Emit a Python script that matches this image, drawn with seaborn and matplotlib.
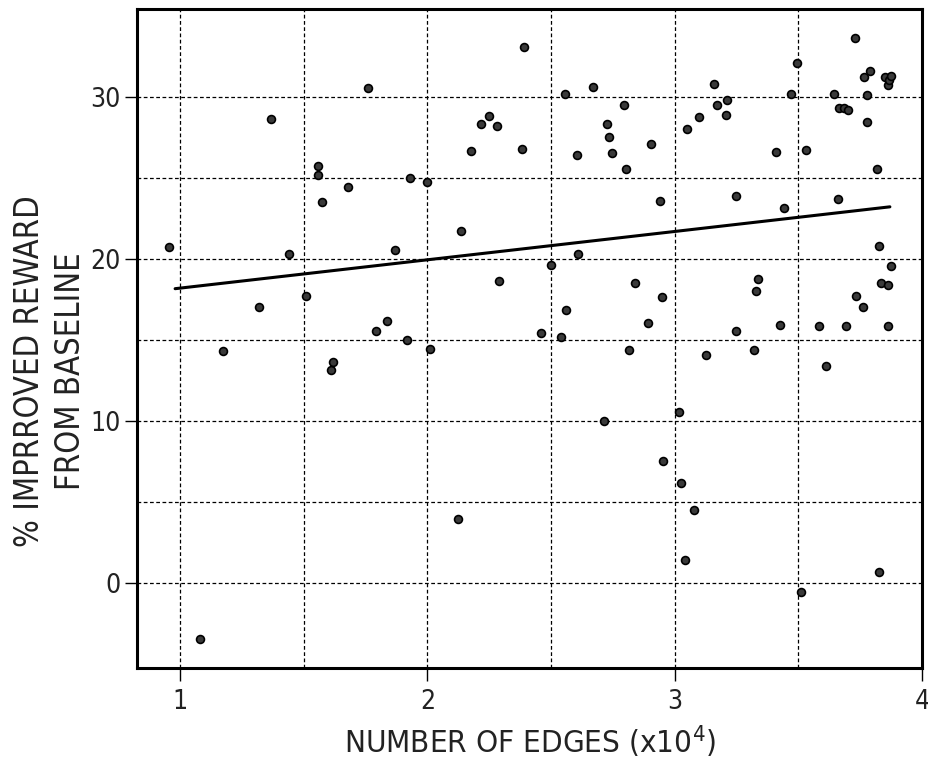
import matplotlib
matplotlib.use("Agg")
import matplotlib.pyplot as plt
from matplotlib.ticker import FixedLocator
import seaborn as sns
import pandas as pd

# Number of edges (x10^4)
edges = [0.957, 1.081, 1.174, 1.318, 1.368, 1.440, 1.508, 1.559, 1.559, 1.572,
         1.610, 1.618, 1.680, 1.758, 1.794, 1.837, 1.868, 1.917, 1.930, 2.000,
         2.011, 2.124, 2.135, 2.175, 2.217, 2.248, 2.280, 2.288, 2.381, 2.391,
         2.461, 2.500, 2.540, 2.555, 2.560, 2.606, 2.610, 2.668, 2.716, 2.725,
         2.734, 2.747, 2.795, 2.805, 2.815, 2.838, 2.894, 2.905, 2.939, 2.948,
         2.952, 3.019, 3.025, 3.040, 3.049, 3.080, 3.100, 3.128, 3.158, 3.169,
         3.209, 3.211, 3.248, 3.248, 3.320, 3.328, 3.338, 3.411, 3.424, 3.441,
         3.472, 3.496, 3.512, 3.531, 3.585, 3.611, 3.645, 3.659, 3.666, 3.686,
         3.699, 3.693, 3.729, 3.734, 3.761, 3.767, 3.776, 3.777, 3.789, 3.816,
         3.826, 3.827, 3.836, 3.852, 3.863, 3.862, 3.863, 3.868, 3.874, 3.876]
# % improved reward from baseline
reward = [20.70, -3.48, 14.28, 17.02, 28.64, 20.31, 17.70, 25.70, 25.14, 23.48,
          13.11, 13.60, 24.40, 30.51, 15.57, 16.15, 20.56, 14.98, 24.98, 24.73,
          14.42, 3.93, 21.73, 26.67, 28.31, 28.81, 28.17, 18.60, 26.79, 33.09,
          15.41, 19.63, 15.17, 30.16, 16.85, 26.42, 20.29, 30.62, 9.96, 28.31,
          27.49, 26.50, 29.49, 25.56, 14.36, 18.48, 16.05, 27.10, 23.58, 17.61,
          7.53, 10.56, 6.19, 1.42, 28.02, 4.51, 28.72, 14.03, 30.78, 29.51,
          28.87, 29.80, 23.85, 15.57, 14.34, 18.02, 18.77, 26.56, 15.90, 23.13,
          30.16, 32.10, -0.58, 26.71, 15.82, 13.35, 30.19, 23.68, 29.28, 29.28,
          29.20, 15.82, 33.60, 17.72, 16.99, 31.19, 28.46, 30.08, 31.60, 25.56,
          20.80, 0.70, 18.50, 31.23, 18.35, 15.82, 30.70, 31.00, 19.53, 31.27]

# Trend line endpoints
trend_x = [0.98, 3.87]
trend_y = [18.15, 23.20]

x_ticks = [1, 2, 3, 4]
y_ticks = [0, 10, 20, 30]
x_minor = [1.5, 2.5, 3.5]
y_minor = [5, 15, 25]

df = pd.DataFrame({"edges": edges, "reward": reward})
trend = pd.DataFrame({"x": trend_x, "y": trend_y})

sns.set_theme(style="white")
plt.rcParams["font.family"] = ["DejaVu Sans"]
plt.rcParams["font.stretch"] = "condensed"
plt.rcParams["mathtext.fontset"] = "custom"
plt.rcParams["mathtext.rm"] = "DejaVu Sans:stretch=condensed"

fig = plt.figure(figsize=(9.29, 7.68), dpi=100)
ax = fig.add_axes([0.1475, 0.1302, 0.845, 0.858])

sns.scatterplot(data=df, x="edges", y="reward", ax=ax, s=32, color="#3a3a3a",
                edgecolor="black", linewidth=1.2, zorder=3)
sns.lineplot(data=trend, x="x", y="y", ax=ax, color="black", linewidth=2.2, zorder=2)

ax.set_xlim(0.826, 4.0)
ax.set_ylim(-5.25, 35.4)
ax.set_xticks(x_ticks)
ax.set_yticks(y_ticks)
ax.xaxis.set_minor_locator(FixedLocator(x_minor))
ax.yaxis.set_minor_locator(FixedLocator(y_minor))
ax.grid(True, which="both", linestyle=(0, (3, 2)), color="black", linewidth=0.9)
ax.set_axisbelow(True)
ax.tick_params(axis="both", which="major", direction="out", length=9, width=1,
               color="black", labelsize=19, labelcolor="#222222", bottom=True, left=True)
ax.tick_params(axis="y", which="major", pad=3)
ax.tick_params(axis="x", which="major", pad=6)
ax.tick_params(axis="both", which="minor", length=0)
for sp in ax.spines.values():
    sp.set_visible(True)
    sp.set_color("black")
    sp.set_linewidth(2.2)

for lab in ax.get_xticklabels() + ax.get_yticklabels():
    lab.set_fontstretch("condensed")

ax.set_xlabel(r"NUMBER OF EDGES (x10$^{4}$)", fontsize=22.5, color="#222222",
              labelpad=6, fontstretch="condensed")
ax.set_ylabel("% IMPRROVED REWARD\nFROM BASELINE", fontsize=23.5, color="#222222",
              linespacing=1.3, fontstretch="condensed")
ax.yaxis.set_label_coords(-0.064, 0.45)

fig.savefig("out.png", dpi=100)
